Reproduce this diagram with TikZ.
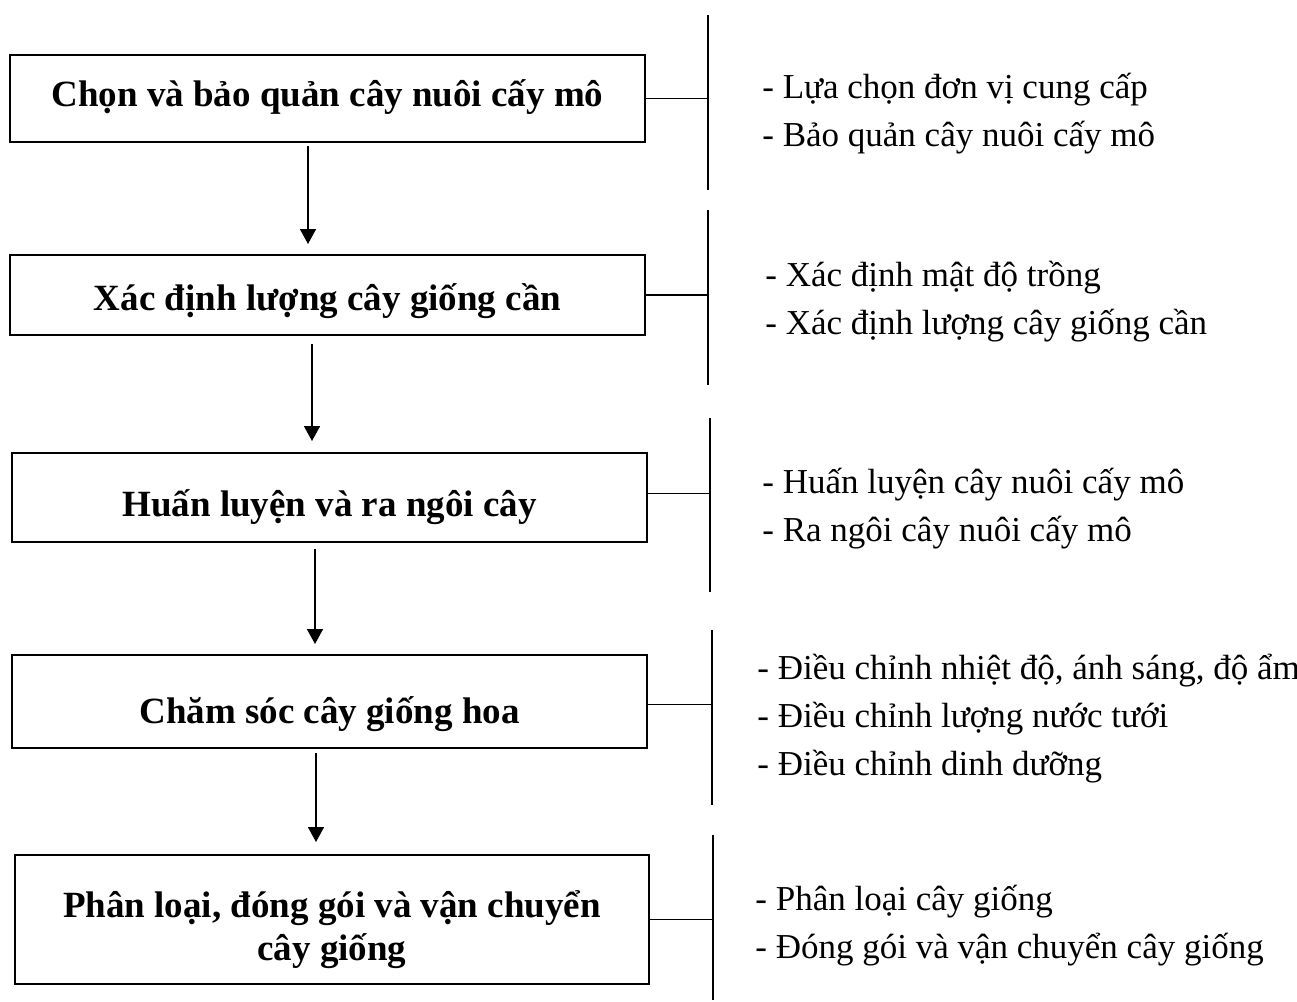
\documentclass[tikz,border=0pt]{standalone}
\usepackage{fontspec}
\setmainfont{Liberation Serif}
\usetikzlibrary{arrows.meta}
\begin{document}
\begin{tikzpicture}[x=0.5pt,y=-0.5pt,
  stepbox/.style={draw,line width=1pt,inner sep=0pt,align=center,
    font=\fontsize{18.5}{21.5}\selectfont\bfseries,minimum width=317.5pt,
    text depth=0pt},
  boxtext/.style={inner sep=0pt,align=center,
    font=\fontsize{18.5}{21.5}\selectfont\bfseries},
  note/.style={anchor=west,align=left,inner sep=0pt,
    font=\fontsize{17.5}{24}\selectfont},
  arr/.style={line width=0.8pt,-{Triangle[width=8pt,length=7.5pt]}},
  bar/.style={line width=0.9pt}]
\useasboundingbox (0,0) rectangle (1297,1002);
% boxes
\node[stepbox,minimum height=43.5pt,text height=8.2pt] (b1) at (327.5,98.5) {Chọn và bảo quản cây nuôi cấy mô};
\node[stepbox,minimum height=40pt,text height=15pt] (b2) at (327.5,295) {Xác định lượng cây giống cần};
\node[stepbox,minimum height=44.5pt,text height=18.5pt] (b3) at (329.5,497.5) {Huấn luyện và ra ngôi cây};
\node[stepbox,minimum height=46.5pt,text height=22pt] (b4) at (329.5,701.5) {Chăm sóc cây giống hoa};
\node[draw,line width=1pt,inner sep=0pt,minimum height=64.5pt,minimum width=317pt] (b5) at (332,919.5) {};
\node[boxtext] (b5t) at (332,929.5) {Phân loại, đóng gói và vận chuyển\\cây giống};
% notes
\node[note] (n1) at (762,114) {- Lựa chọn đơn vị cung cấp\\- Bảo quản cây nuôi cấy mô};
\node[note] (n2) at (765,302) {- Xác định mật độ trồng\\- Xác định lượng cây giống cần};
\node[note] (n3) at (762,509) {- Huấn luyện cây nuôi cấy mô\\- Ra ngôi cây nuôi cấy mô};
\node[note] (n4) at (757,719) {- Điều chỉnh nhiệt độ, ánh sáng, độ ẩm\\- Điều chỉnh lượng nước tưới\\- Điều chỉnh dinh dưỡng};
\node[note] (n5) at (755,926) {- Phân loại cây giống\\- Đóng gói và vận chuyển cây giống};
% vertical bars
\coordinate (v1t) at (708,15);  \coordinate (v1b) at (708,190);
\coordinate (v2t) at (708,210); \coordinate (v2b) at (708,385);
\coordinate (v3t) at (710,418); \coordinate (v3b) at (710,592);
\coordinate (v4t) at (712,630); \coordinate (v4b) at (712,805);
\coordinate (v5t) at (713,835); \coordinate (v5b) at (713,1000);
\draw[bar] (v1t) -- (v1b);
\draw[bar] (v2t) -- (v2b);
\draw[bar] (v3t) -- (v3b);
\draw[bar] (v4t) -- (v4b);
\draw[bar] (v5t) -- (v5b);
% connectors to bars
\draw[bar] (b1.east) -- (b1.east -| v1t);
\draw[bar] (b2.east) -- (b2.east -| v2t);
\draw[bar] ([yshift=2pt]b3.east) -- ([yshift=2pt]b3.east -| v3t);
\draw[bar] ([yshift=-1.5pt]b4.east) -- ([yshift=-1.5pt]b4.east -| v4t);
\draw[bar] (b5.east) -- (b5.east -| v5t);
% arrows
\coordinate (x1) at (308,0);
\coordinate (x2) at (312,0);
\coordinate (x3) at (315,0);
\coordinate (x4) at (316,0);
\draw[arr,shorten <=1.5pt,shorten >=5pt] (b1.south -| x1) -- (b2.north -| x1);
\draw[arr,shorten <=4pt,shorten >=5.5pt] (b2.south -| x2) -- (b3.north -| x2);
\draw[arr,shorten <=3pt,shorten >=5pt] (b3.south -| x3) -- (b4.north -| x3);
\draw[arr,shorten <=2pt,shorten >=6pt] (b4.south -| x4) -- (b5.north -| x4);
\end{tikzpicture}
\end{document}
